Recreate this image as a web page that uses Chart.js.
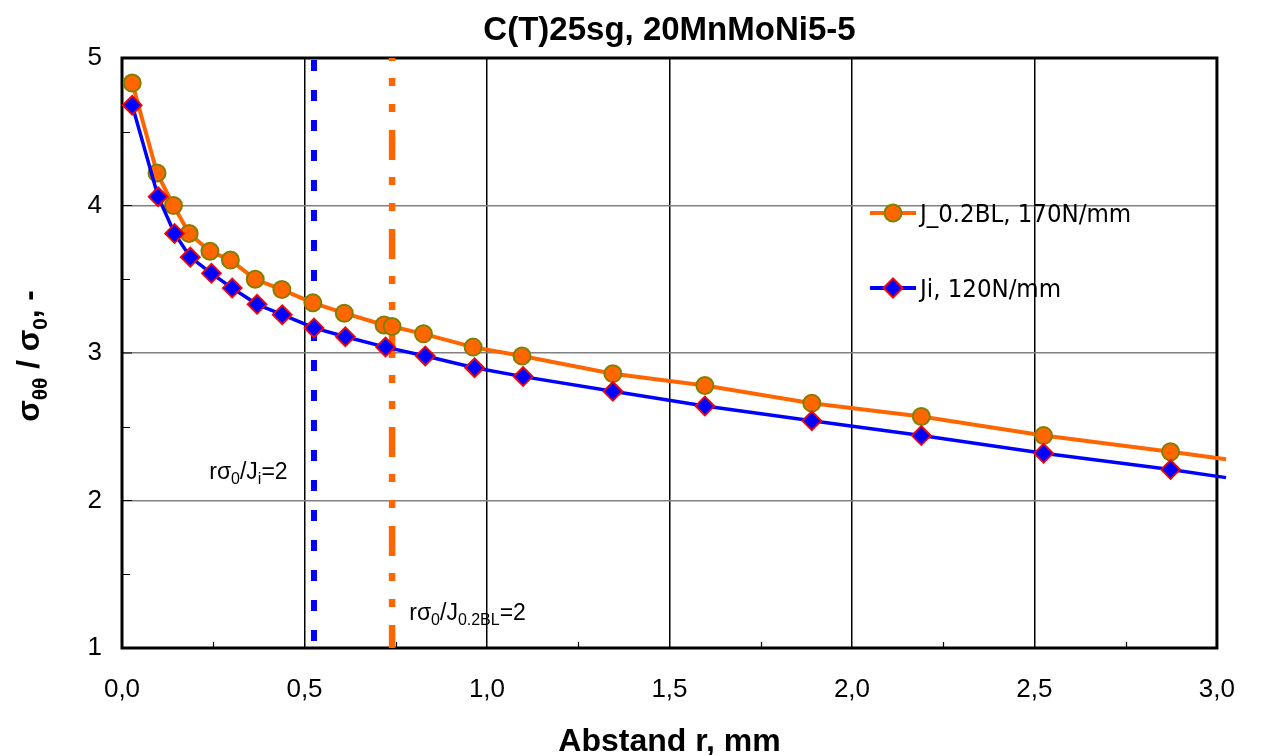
<!DOCTYPE html>
<html><head><meta charset="utf-8">
<script src="https://cdn.jsdelivr.net/npm/chart.js@4.4.1/dist/chart.umd.min.js"></script>
<style>html,body{margin:0;padding:0;background:#fff;}#wrap{width:1261px;height:755px;}</style>
</head><body><div id="wrap"><canvas id="c" width="1261" height="755"></canvas></div>
<script>
// ---- data ----
const chartTitle = 'C(T)25sg, 20MnMoNi5-5';
const xAxisTitle = 'Abstand r, mm';
const xTickLabels = ['0,0','0,5','1,0','1,5','2,0','2,5','3,0'];
const yTickLabels = ['1','2','3','4','5'];
const j02Label = 'J_0.2BL, 170N/mm';
const jiLabel = 'Ji, 120N/mm';
const j02X = [0.028,0.096,0.141,0.184,0.241,0.297,0.365,0.438,0.523,0.609,0.718,0.740,0.826,0.962,1.096,1.345,1.597,1.890,2.190,2.525,2.873,3.025];
const j02Y = [4.83,4.22,4.00,3.81,3.69,3.63,3.50,3.43,3.34,3.27,3.19,3.18,3.13,3.04,2.98,2.86,2.78,2.66,2.57,2.44,2.33,2.28];
const jiX = [0.028,0.099,0.144,0.187,0.245,0.302,0.370,0.439,0.526,0.612,0.722,0.831,0.966,1.099,1.345,1.597,1.890,2.190,2.525,2.873,3.025];
const jiY = [4.68,4.06,3.81,3.65,3.54,3.44,3.33,3.26,3.17,3.11,3.04,2.98,2.90,2.84,2.74,2.64,2.54,2.44,2.32,2.21,2.155];
const refJiX = [0.526, 0.526];
const refJ02X = [0.740, 0.740];
const refY = [5, 1];

const pts = (xs, ys) => xs.map((x, i) => ({x: x, y: ys[i]}));
const SANS = '"Liberation Sans", Arial, sans-serif';
const LEG = '"DejaVu Sans Condensed", "DejaVu Sans", Tahoma, sans-serif';

function drawRich(ctx, parts, x, y, size, weight, family, align) {
  const subSize = Math.round(size * 0.68);
  const f = p => `${weight} ${p.sub ? subSize : size}px ${family}`;
  let total = 0;
  parts.forEach(p => { ctx.font = f(p); total += ctx.measureText(p.t).width; });
  let cx = align === 'center' ? x - total / 2 : x;
  ctx.textAlign = 'left';
  ctx.textBaseline = 'alphabetic';
  parts.forEach(p => {
    ctx.font = f(p);
    ctx.fillText(p.t, cx, y + (p.sub ? size * 0.24 : 0));
    cx += ctx.measureText(p.t).width;
  });
}

const decor = {
  id: 'decor',
  beforeDraw(chart) {
    const ctx = chart.ctx;
    ctx.save(); ctx.fillStyle = '#fff'; ctx.fillRect(0, 0, chart.width, chart.height); ctx.restore();
  },
  beforeDatasetsDraw(chart) {
    const ctx = chart.ctx, a = chart.chartArea, xs = chart.scales.x, ys = chart.scales.y;
    ctx.save();
    ctx.strokeStyle = '#000';
    ctx.lineWidth = 1.2;
    ctx.beginPath();
    for (let v = 0.25; v < 3; v += 0.5) {
      const px = Math.round(xs.getPixelForValue(v)) + 0.5;
      ctx.moveTo(px, a.bottom); ctx.lineTo(px, a.bottom - 6);
    }
    for (let v = 1.5; v < 5; v += 1) {
      const py = Math.round(ys.getPixelForValue(v)) + 0.5;
      ctx.moveTo(a.left, py); ctx.lineTo(a.left + 8, py);
    }
    for (let v = 2; v < 5; v += 1) {
      const py = ys.getPixelForValue(v);
      ctx.moveTo(a.left, py); ctx.lineTo(a.left + 10, py);
    }
    ctx.stroke();
    ctx.lineWidth = 3;
    ctx.strokeRect(a.left, a.top, a.right - a.left, a.bottom - a.top);
    ctx.restore();
  },
  afterDraw(chart) {
    const ctx = chart.ctx, a = chart.chartArea, xs = chart.scales.x, ys = chart.scales.y;
    ctx.save();
    ctx.fillStyle = '#000';
    ctx.textAlign = 'center'; ctx.textBaseline = 'alphabetic';
    ctx.font = `bold 33px ${SANS}`;
    ctx.fillText(chartTitle, (a.left + a.right) / 2, 40);
    ctx.font = `bold 32px ${SANS}`;
    ctx.fillText(xAxisTitle, (a.left + a.right) / 2, 751);
    ctx.save();
    ctx.translate(39, 356);
    ctx.rotate(-Math.PI / 2);
    drawRich(ctx, [{t:'σ'},{t:'θθ',sub:true},{t:' / σ'},{t:'0',sub:true},{t:', -'}], 0, 0, 31.5, 'bold', SANS, 'center');
    ctx.restore();
    drawRich(ctx, [{t:'rσ'},{t:'0',sub:true},{t:'/J'},{t:'i',sub:true},{t:'=2'}],
      xs.getPixelForValue(0.239), ys.getPixelForValue(2.146), 23, 'normal', SANS, 'left');
    drawRich(ctx, [{t:'rσ'},{t:'0',sub:true},{t:'/J'},{t:'0.2BL',sub:true},{t:'=2'}],
      xs.getPixelForValue(0.787), ys.getPixelForValue(1.19), 23, 'normal', SANS, 'left');
    const items = [
      {label: j02Label, color: '#FF6600', y: 213, style: 'circle', fill: '#FF6600', stroke: '#808000'},
      {label: jiLabel, color: '#0000FF', y: 288, style: 'diamond', fill: '#0000FF', stroke: '#FF0000'}
    ];
    items.forEach(it => {
      ctx.strokeStyle = it.color; ctx.lineWidth = 4;
      ctx.beginPath(); ctx.moveTo(870, it.y); ctx.lineTo(916, it.y); ctx.stroke();
      ctx.beginPath();
      if (it.style === 'circle') { ctx.arc(893, it.y, 8.5, 0, Math.PI * 2); }
      else { ctx.moveTo(893 - 9.5, it.y); ctx.lineTo(893, it.y - 9.5); ctx.lineTo(893 + 9.5, it.y); ctx.lineTo(893, it.y + 9.5); ctx.closePath(); }
      ctx.fillStyle = it.fill; ctx.fill();
      ctx.strokeStyle = it.stroke; ctx.lineWidth = 2; ctx.stroke();
      ctx.fillStyle = '#000';
      ctx.font = `25.5px ${LEG}`;
      ctx.textAlign = 'left'; ctx.textBaseline = 'alphabetic';
      ctx.fillText(it.label, 920, it.y + 9);
    });
    ctx.restore();
  }
};

const lastR = (n, r) => c => (c.dataIndex === n - 1 ? 0 : r);

new Chart(document.getElementById('c'), {
  type: 'scatter',
  data: {
    datasets: [
      {
        label: jiLabel, data: pts(jiX, jiY), showLine: true, order: 0, clip: false,
        borderColor: '#0000FF', borderWidth: 3.5, tension: 0,
        pointStyle: 'rectRot', pointRadius: lastR(jiX.length, 9.5),
        pointBackgroundColor: '#0000FF', pointBorderColor: '#FF0000', pointBorderWidth: 1.8
      },
      {
        label: j02Label, data: pts(j02X, j02Y), showLine: true, order: 1, clip: false,
        borderColor: '#FF6600', borderWidth: 4, tension: 0,
        pointStyle: 'circle', pointRadius: lastR(j02X.length, 8.5),
        pointBackgroundColor: '#FF6600', pointBorderColor: '#808000', pointBorderWidth: 2
      },
      {
        label: 'ref Ji', data: pts(refJiX, refY), showLine: true, order: 2,
        borderColor: '#0000FF', borderWidth: 6, borderDash: [11, 19], borderDashOffset: 28,
        borderCapStyle: 'butt', pointRadius: 0
      },
      {
        label: 'ref J02', data: pts(refJ02X, refY), showLine: true, order: 3,
        borderColor: '#FF6600', borderWidth: 6.5, borderDash: [30, 17, 8, 18, 8, 18], borderDashOffset: 27,
        borderCapStyle: 'butt', pointRadius: 0
      }
    ]
  },
  options: {
    responsive: false, animation: false, devicePixelRatio: 1, events: [],
    layout: {padding: {left: 0, right: 33, top: 58, bottom: 0}},
    plugins: {legend: {display: false}, tooltip: {enabled: false}, title: {display: false}},
    scales: {
      x: {
        type: 'linear', min: 0, max: 3,
        afterFit: s => { s.height = 107; },
        border: {display: false},
        grid: {
          drawTicks: false, lineWidth: 1.5,
          color: c => (c.tick && (c.tick.value === 0 || c.tick.value === 3)) ? 'rgba(0,0,0,0)' : '#000'
        },
        ticks: {
          stepSize: 0.5, autoSkip: false, maxRotation: 0, padding: 26, color: '#000',
          font: {family: SANS, size: 26},
          callback: (v, i) => xTickLabels[i]
        }
      },
      y: {
        type: 'linear', min: 1, max: 5,
        afterFit: s => { s.width = 122; },
        border: {display: false},
        grid: {
          drawTicks: false, lineWidth: 1.5,
          color: c => (c.tick && (c.tick.value === 1 || c.tick.value === 5)) ? 'rgba(0,0,0,0)' : '#808080'
        },
        ticks: {
          stepSize: 1, padding: 20, color: '#000',
          font: {family: SANS, size: 26},
          callback: (v, i) => yTickLabels[i]
        }
      }
    }
  },
  plugins: [decor]
});
</script>
</body></html>
